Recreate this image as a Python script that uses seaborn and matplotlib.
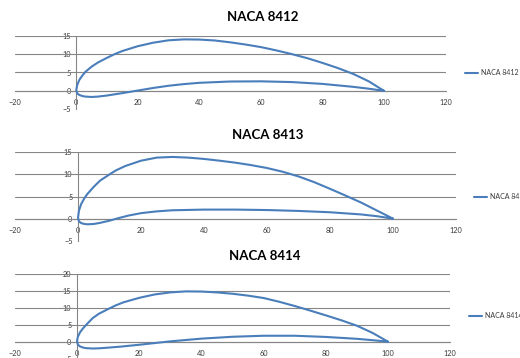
import matplotlib
matplotlib.use("Agg")
import matplotlib.pyplot as plt
import seaborn as sns
import pandas as pd

# ---------------- data ----------------
titles = ["NACA 8412", "NACA 8413", "NACA 8414"]
x_ticks = [-20, 0, 20, 40, 60, 80, 100, 120]

# NACA 8412 (upper surface from trailing edge to leading edge, lower surface back)
upper_x_8412 = [100, 95, 90, 85, 80, 75, 70, 65, 60, 55, 50, 45, 40, 35, 30, 25, 20, 15, 12.5, 10, 7, 5, 3, 2, 1, 0.3, 0]
upper_y_8412 = [0, 2.6, 4.6, 6.2, 7.6, 8.9, 10.0, 11.0, 11.9, 12.6, 13.2, 13.7, 13.95, 14.0, 13.75, 13.1, 12.15, 10.85, 10.0, 9.0, 7.7, 6.6, 5.2, 4.2, 3.0, 1.6, 0.2]
lower_x_8412 = [0.3, 1, 2, 3, 5, 7, 10, 15, 20, 25, 30, 35, 40, 50, 60, 70, 80, 90, 95, 100]
lower_y_8412 = [-0.7, -1.1, -1.4, -1.55, -1.65, -1.55, -1.25, -0.6, 0.1, 0.8, 1.4, 1.85, 2.2, 2.55, 2.6, 2.4, 1.9, 1.1, 0.6, 0]

# NACA 8413
upper_x_8413 = [100, 95, 90, 85, 80, 75, 70, 65, 60, 55, 50, 45, 40, 35, 30, 25, 20, 15, 12, 10, 7, 5, 3, 2, 1, 0.3, 0]
upper_y_8413 = [0, 1.8, 3.6, 5.2, 6.75, 8.25, 9.55, 10.6, 11.45, 12.1, 12.65, 13.1, 13.5, 13.8, 13.95, 13.8, 13.1, 11.9, 10.9, 10.0, 8.6, 7.2, 5.6, 4.6, 3.3, 1.8, 0.2]
lower_x_8413 = [0.3, 1, 2, 3, 5, 7, 10, 13, 16, 20, 25, 30, 40, 50, 60, 70, 80, 90, 95, 100]
lower_y_8413 = [-0.6, -1.0, -1.2, -1.27, -1.2, -0.95, -0.45, 0.15, 0.7, 1.25, 1.65, 1.9, 2.05, 2.05, 1.95, 1.75, 1.45, 0.95, 0.55, 0]

# NACA 8414
upper_x_8414 = [100, 95, 90, 85, 80, 75, 70, 65, 60, 55, 50, 45, 40, 35, 30, 25, 20, 15, 12.5, 10, 7, 5, 3, 2, 1, 0.3, 0]
upper_y_8414 = [0, 2.6, 4.7, 6.3, 7.75, 9.15, 10.5, 11.75, 12.85, 13.55, 14.1, 14.5, 14.75, 14.8, 14.5, 13.9, 12.9, 11.6, 10.7, 9.6, 8.2, 6.9, 5.0, 4.0, 2.8, 1.5, 0.2]
lower_x_8414 = [0.3, 1, 2, 3, 5, 7, 10, 14, 20, 25, 30, 35, 40, 50, 60, 70, 80, 90, 95, 100]
lower_y_8414 = [-0.9, -1.4, -1.75, -1.9, -2.0, -1.95, -1.75, -1.45, -0.9, -0.4, 0.1, 0.5, 0.9, 1.45, 1.75, 1.75, 1.4, 0.85, 0.45, 0]

foils = [
    (upper_x_8412 + lower_x_8412, upper_y_8412 + lower_y_8412),
    (upper_x_8413 + lower_x_8413, upper_y_8413 + lower_y_8413),
    (upper_x_8414 + lower_x_8414, upper_y_8414 + lower_y_8414),
]
y_limits = [(-5, 15), (-5, 15), (-5, 20)]

# ---------------- layout (pixels of a 520x358 canvas) ----------------
W, H = 520, 358
axes_px = [  # left, top, right, bottom
    (14.7, 35.7, 445.7, 109.3),
    (15.0, 152.3, 456.0, 240.8),
    (14.8, 273.7, 450.2, 358.7),
]
title_px = [(262.5, 17), (268, 135), (265, 256)]
legend_px = [(465, 72.5), (474, 196.7), (469, 316)]

LINE = "#4A7EBB"
GRID = "#868686"
TEXT = "#3a3a3a"

sns.set_theme(style="white")
plt.rcParams["font.family"] = ["Lato", "DejaVu Sans"]

fig = plt.figure(figsize=(W / 100, H / 100), dpi=100)
fig.patch.set_facecolor("white")

for i in range(3):
    l, t, r, b = axes_px[i]
    ax = fig.add_axes([l / W, 1 - b / H, (r - l) / W, (b - t) / H])
    ax.set_facecolor("none")
    xs, ys = foils[i]
    df = pd.DataFrame({"x": xs, "y": ys})
    sns.lineplot(data=df, x="x", y="y", sort=False, estimator=None, ax=ax,
                 color=LINE, linewidth=1.5, label=titles[i], zorder=3)
    ax.lines[-1].set_solid_joinstyle("round")
    ymin, ymax = y_limits[i]
    ax.set_xlim(-20, 120)
    ax.set_ylim(ymin, ymax)
    ax.set_xticks(x_ticks)
    yt = list(range(ymin, ymax + 1, 5))
    ax.set_yticks(yt)
    for v in yt:
        if v > ymin:
            ax.axhline(v, color=GRID, lw=0.8, zorder=1)
    for s in ["top", "right"]:
        ax.spines[s].set_visible(False)
    ax.spines["left"].set_position(("data", 0))
    ax.spines["bottom"].set_position(("data", 0))
    for s in ["left", "bottom"]:
        ax.spines[s].set_color(GRID)
        ax.spines[s].set_linewidth(0.8)
        ax.spines[s].set_zorder(2)
    ax.tick_params(axis="x", direction="out", length=3, width=0.8, color=GRID,
                   labelsize=5.3, labelcolor=TEXT, pad=3)
    ax.tick_params(axis="y", direction="out", length=2, width=0.8, color=GRID,
                   labelsize=5.3, labelcolor=TEXT, pad=2)
    ax.set_xlabel("")
    ax.set_ylabel("")
    ax.grid(False)

    lx, ly = legend_px[i]
    ax.legend(loc="center left", bbox_to_anchor=(lx / W, 1 - ly / H),
              bbox_transform=fig.transFigure, frameon=False, fontsize=5.0,
              handlelength=1.9, handletextpad=0.4, borderpad=0, borderaxespad=0,
              labelcolor=TEXT)

    tx, ty = title_px[i]
    fig.text(tx / W, 1 - ty / H, titles[i], ha="center", va="center",
             fontsize=9.5, fontweight="bold", color="black")

fig.savefig("out.png", dpi=100)
